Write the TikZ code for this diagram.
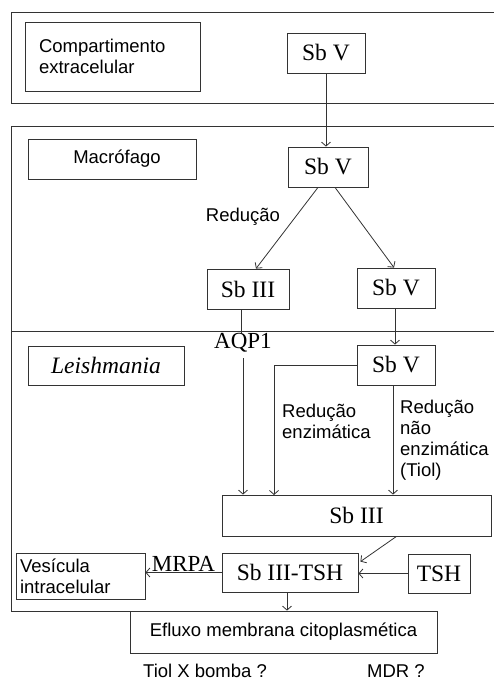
\documentclass[tikz,border=0pt]{standalone}
\usepackage{fontspec}
\setmainfont{Liberation Serif}
\newfontfamily\arialfont{Liberation Sans}
\usetikzlibrary{arrows.meta}
\tikzset{
  box/.style={draw=black!80, line width=0.8pt, fill=white, inner sep=2pt},
  sbbox/.style={box, font=\fontsize{23.5}{27}\selectfont},
  txtbox/.style={box, font=\arialfont\fontsize{18.5}{21}\selectfont},
  lbl/.style={font=\arialfont\fontsize{18.5}{21}\selectfont, inner sep=0pt},
  sblbl/.style={font=\fontsize{23}{26}\selectfont, inner sep=0pt},
  arr/.style={draw=black!80, line width=0.8pt, -{Straight Barb[length=4pt,width=9pt]}},
  ln/.style={draw=black!80, line width=0.8pt}
}
\begin{document}
\begin{tikzpicture}[x=1pt,y=-1pt]
	\useasboundingbox (0,0) rectangle (493,682);
	% compartments
	\draw[ln] (11,12) rectangle (496,103);
	\draw[ln] (496,126) -- (11,126) -- (11,331) -- (496,331);
	\draw[ln] (11,331) -- (11,611) -- (130,611);
	
	\node[txtbox, minimum width=175pt, minimum height=69pt, text width=147pt, inner xsep=14pt, align=left] (comp) at (112.5,56.5) {Compartimento\\extracelular};
	\node[sbbox, minimum width=78pt, minimum height=40pt] (sbvE) at (326,53) {Sb V};
	
	\node[txtbox, minimum width=168pt, minimum height=40pt] (macro) at (112,159) {\hspace*{10pt}Macrófago};
	\node[sbbox, minimum width=80pt, minimum height=40pt] (sbvM) at (328,167) {Sb V};
	\node[sbbox, minimum width=82pt, minimum height=40pt] (sb3M) at (248,289) {Sb III};
	\node[sbbox, minimum width=78pt, minimum height=40pt] (sbvR) at (396,288) {Sb V};
	\node[lbl] (red) at (243,217) {Redução};
	
	\node[box, font=\itshape\fontsize{23.5}{27}\selectfont, minimum width=156pt, minimum height=39pt] (leish) at (106,365.5) {Leishmania};
	\node[sbbox, minimum width=78pt, minimum height=40pt] (sbvL) at (396,365) {Sb V};
	\node[sblbl, anchor=north] (aqp) at (243,333) {AQP1};
	\node[lbl, anchor=north west, align=left] (redenz) at (282,404) {Redução\\enzimática};
	\node[lbl, anchor=north west, align=left] (rednao) at (400,400) {Redução\\não\\enzimática\\(Tiol)};
	
	\node[sbbox, minimum width=269pt, minimum height=41pt] (sb3) at (356.5,515.5) {Sb III};
	\node[sbbox, minimum width=136pt, minimum height=39pt] (sb3tsh) at (290,572.5) {Sb III-TSH};
	\node[sbbox, minimum width=62pt, minimum height=39pt] (tsh) at (439,573.5) {TSH};
	\node[txtbox, minimum width=129pt, minimum height=46pt, text width=121pt, inner xsep=4pt, align=left] (ves) at (80.5,576) {Vesícula\\intracelular};
	\node[txtbox, minimum width=307pt, minimum height=42pt] (eflux) at (283.5,632) {Efluxo membrana citoplasmética};
	
	\node[lbl] (tiol) at (205,671) {Tiol X bomba ?};
	\node[lbl] (mdr) at (396,671) {MDR ?};
	
	\coordinate (enz) at (274,495);
	
	% connectors
	\draw[arr] (sbvE.south) -- (sbvE.south |- sbvM.north);
	\draw[arr] ([xshift=-10pt]sbvM.south) -- ([xshift=8pt]sb3M.north);
	\draw[arr] ([xshift=7pt]sbvM.south) -- ([xshift=-2pt]sbvR.north);
	\draw[arr] ([xshift=-1pt]sbvR.south) -- ([xshift=-1pt]sbvR.south |- sbvL.north);
	\draw[ln] ([xshift=-7pt]sb3M.south) -- ([xshift=-7pt]sb3M.south |- aqp.north);
	\draw[arr] ([yshift=-6pt]aqp.south) -- (aqp.south |- sb3.north);
	\draw[arr] (sbvL.west) -| (enz);
	\draw[arr] ([xshift=-3pt]sbvL.south) -- ([xshift=-3pt]sbvL.south |- sb3.north);
	\draw[arr] ([xshift=40pt]sb3.south) -- ([yshift=-9pt,xshift=2pt]sb3tsh.north east);
	\draw[arr] (tsh.west) -- (tsh.west -| sb3tsh.east);
	\draw[arr] (sb3tsh.west) -- (sb3tsh.west -| ves.east) node[midway, above, sblbl, yshift=1pt] (mrpa) {MRPA};
	\draw[arr] ([xshift=-3pt]sb3tsh.south) -- ([xshift=-3pt]sb3tsh.south |- eflux.north);
\end{tikzpicture}
\end{document}
